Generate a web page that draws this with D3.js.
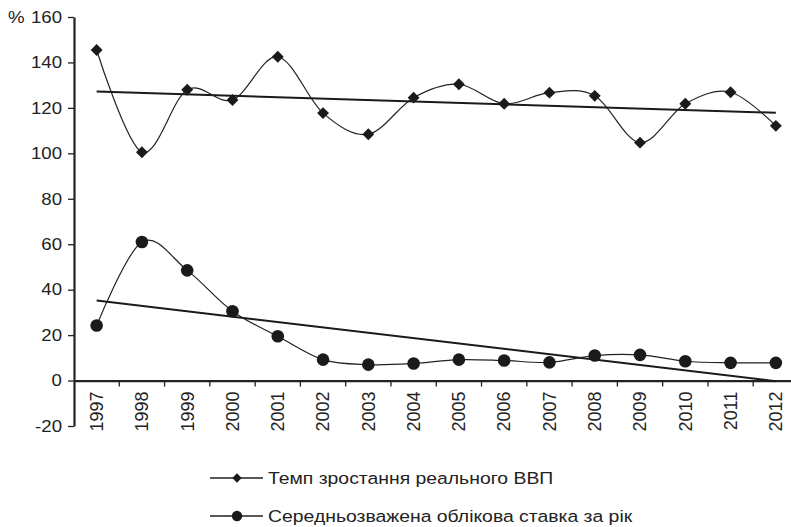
<!DOCTYPE html>
<html>
<head>
<meta charset="utf-8">
<script src="https://cdn.jsdelivr.net/npm/d3@7"></script>
<style>
  body { margin: 0; background: #fff; }
  text { font-family: "Liberation Sans", Arial, sans-serif; fill: #222; }
</style>
</head>
<body>
<div id="chart"></div>
<script>
const years = ["1997", "1998", "1999", "2000", "2001", "2002", "2003", "2004",
               "2005", "2006", "2007", "2008", "2009", "2010", "2011", "2012"];
const gdpGrowth = [145.5, 100.5, 128, 123.5, 142.5, 117.7, 108.4, 124.5,
                   130.4, 121.8, 126.7, 125.3, 104.7, 121.8, 126.9, 112.1];
const discountRate = [24.2, 61, 48.5, 30.5, 19.5, 9.2, 7, 7.5,
                      9.2, 8.8, 8, 11, 11.3, 8.5, 7.8, 7.8];
const yTicks = [-20, 0, 20, 40, 60, 80, 100, 120, 140, 160];
const seriesNames = ["Темп зростання реального ВВП", "Середньозважена облікова ставка за рік"];

const W = 791, H = 527;
const margin = { left: 74, top: 17, bottom: 426, right: 798.5 };

const svg = d3.select("#chart").append("svg")
    .attr("width", W)
    .attr("height", H);

const x = d3.scaleBand()
    .domain(years)
    .range([margin.left, margin.right]);

const y = d3.scaleLinear()
    .domain([-20, 160])
    .range([margin.bottom, margin.top]);

const cx = d => x(d) + x.bandwidth() / 2;

// лінійний тренд (найменші квадрати)
function trend(values) {
    const n = values.length;
    const mx = (n - 1) / 2;
    const my = d3.mean(values);
    let sxy = 0, sxx = 0;
    values.forEach((v, i) => { sxy += (i - mx) * (v - my); sxx += (i - mx) * (i - mx); });
    const b = sxy / sxx;
    return [my - b * mx, my + b * (n - 1 - mx)];
}

// вісь Y
const yAxis = svg.append("g")
    .attr("transform", `translate(${margin.left},0)`)
    .call(d3.axisLeft(y).tickValues(yTicks).tickSize(6).tickSizeOuter(0)
        .tickFormat(d => String(d)));
yAxis.select(".domain").attr("stroke", "#222").attr("stroke-width", 2.2);
yAxis.selectAll(".tick line").attr("stroke", "#222").attr("stroke-width", 1.3);
yAxis.selectAll(".tick text")
    .attr("x", 0)
    .attr("transform", "translate(-12,0) scale(1.13,1)")
    .style("font-size", "16.5px")
    .attr("fill", "#222")
    .attr("font-family", null);

svg.append("text")
    .attr("transform", `translate(8,${y(160)}) scale(1.13,1)`)
    .attr("dy", "0.35em")
    .style("font-size", "16.5px")
    .text("%");

// вісь X на рівні 0
const xAxis = svg.append("g")
    .attr("transform", `translate(0,${y(0)})`)
    .call(d3.axisBottom(x).tickSize(0).tickFormat(""));
xAxis.select(".domain").attr("stroke", "#222").attr("stroke-width", 2.2);

svg.append("g")
    .selectAll("line")
    .data(years.slice(1))
    .enter().append("line")
    .attr("x1", d => x(d))
    .attr("x2", d => x(d))
    .attr("y1", y(0))
    .attr("y2", y(0) + 6)
    .attr("stroke", "#222")
    .attr("stroke-width", 1.3);

svg.append("g")
    .selectAll("text")
    .data(years)
    .enter().append("text")
    .attr("transform", d => `translate(${cx(d)},${y(0) + 11}) rotate(-90)`)
    .attr("text-anchor", "end")
    .attr("dy", "0.35em")
    .style("font-size", "18px")
    .text(d => d);

// лінії трендів
[gdpGrowth, discountRate].forEach(vals => {
    const t = trend(vals);
    svg.append("line")
        .attr("x1", cx(years[0]))
        .attr("y1", y(t[0]))
        .attr("x2", cx(years[years.length - 1]))
        .attr("y2", y(t[1]))
        .attr("stroke", "#1a1a1a")
        .attr("stroke-width", 2);
});

const line = d3.line()
    .x((d, i) => cx(years[i]))
    .y(d => y(d))
    .curve(d3.curveCatmullRom.alpha(0));

svg.append("path")
    .datum(gdpGrowth)
    .attr("d", line)
    .attr("fill", "none")
    .attr("stroke", "#222")
    .attr("stroke-width", 1.2);

svg.append("path")
    .datum(discountRate)
    .attr("d", line)
    .attr("fill", "none")
    .attr("stroke", "#222")
    .attr("stroke-width", 1.2);

svg.append("g")
    .selectAll("rect")
    .data(gdpGrowth)
    .enter().append("rect")
    .attr("x", -4.2)
    .attr("y", -4.2)
    .attr("width", 8.4)
    .attr("height", 8.4)
    .attr("transform", (d, i) => `translate(${cx(years[i])},${y(d)}) rotate(45)`)
    .attr("fill", "#1a1a1a");

svg.append("g")
    .selectAll("circle")
    .data(discountRate)
    .enter().append("circle")
    .attr("cx", (d, i) => cx(years[i]))
    .attr("cy", d => y(d))
    .attr("r", 6.3)
    .attr("fill", "#1a1a1a");

// легенда
const legend = svg.append("g");
const legendY = [478, 516];
seriesNames.forEach((name, i) => {
    const g = legend.append("g").attr("transform", `translate(210,${legendY[i]})`);
    g.append("line")
        .attr("x1", 0).attr("x2", 53)
        .attr("stroke", "#222").attr("stroke-width", 1.3);
    if (i === 0) {
        g.append("rect")
            .attr("x", -3.3).attr("y", -3.3).attr("width", 6.6).attr("height", 6.6)
            .attr("transform", "translate(27,0) rotate(45)")
            .attr("fill", "#1a1a1a");
    } else {
        g.append("circle").attr("cx", 27).attr("r", 5.2).attr("fill", "#1a1a1a");
    }
    g.append("text")
        .attr("transform", "translate(58,0) scale(1.14,1)")
        .attr("dy", "0.35em")
        .style("font-size", "17px")
        .text(name);
});
</script>
</body>
</html>
